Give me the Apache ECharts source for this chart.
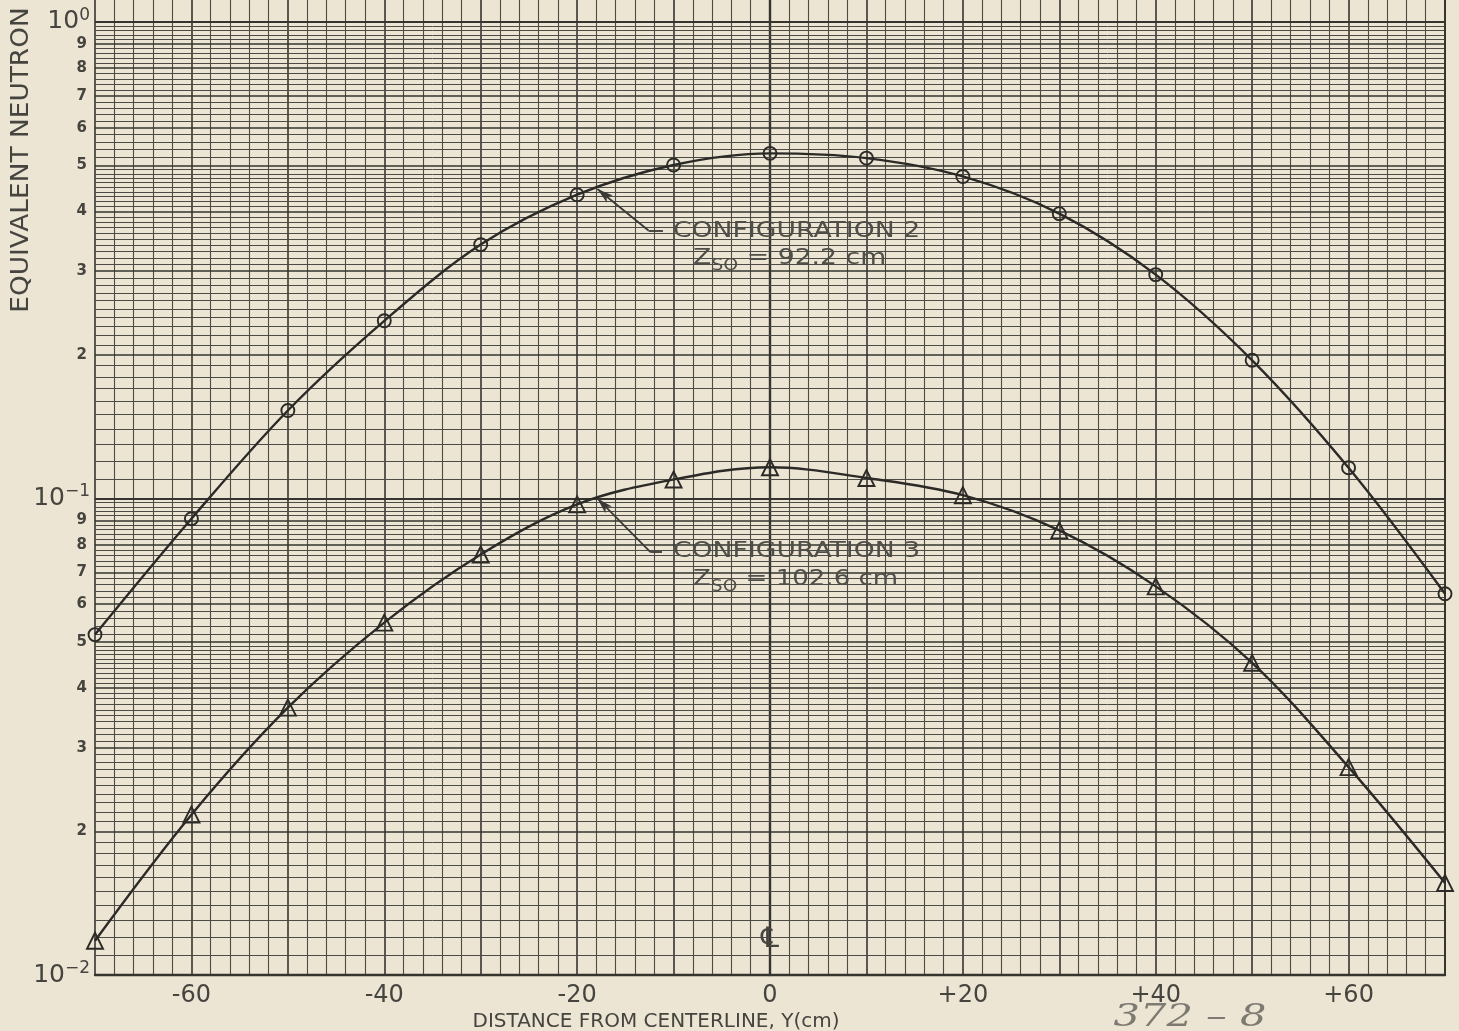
<!DOCTYPE html>
<html><head><meta charset="utf-8">
<script src="https://cdn.jsdelivr.net/npm/echarts@6/dist/echarts.min.js"></script>
<style>html,body{margin:0;padding:0;background:#ece5d3;} #c{width:1459px;height:1031px;}</style>
</head><body><div id="c"></div>
<script>
// ---- data ----
const xValues = [-70, -60, -50, -40, -30, -20, -10, 0, 10, 20, 30, 40, 50, 60, 70];
const config2Values = [0.0518, 0.0907, 0.153, 0.236, 0.341, 0.434, 0.501, 0.530, 0.518, 0.474, 0.396, 0.295, 0.195, 0.116, 0.0631];
const config3Values = [0.0118, 0.0217, 0.0364, 0.0549, 0.0763, 0.0972, 0.1096, 0.1163, 0.1104, 0.1016, 0.0857, 0.0654, 0.0452, 0.0273, 0.0156];
const xTickLabels = [-60, -40, -20, 0, 20, 40, 60];
const decadeExponents = [-2, -1, 0];
const mantissaLabels = [2, 3, 4, 5, 6, 7, 8, 9];
const labeledDecades = [0.01, 0.1];
// leader lines (data coordinates): tip, elbow, end
const leader2 = [[-17.9, 0.446], [-12.6, 0.365], [-11.1, 0.365]];
const leader3 = [[-17.9, 0.100], [-12.4, 0.0772], [-11.2, 0.0772]];

// ---- styles ----
const INK = '#35342f';
const TEXT = '#45443f';
const FONT = '"DejaVu Sans", "Liberation Sans", sans-serif';

// log-paper horizontal rulings
function r(v) { return Math.round(v * 1e7) / 1e7; }
const gridLines = [];
labeledDecades.forEach(function (d) {
  for (let i = 11; i < 100; i++) {
    const m = i / 10;
    if (m >= 5 && (i % 2 === 1)) continue; // 0.2 steps above 5
    const isInt = (i % 10 === 0);
    const item = { yAxis: r(m * d) };
    if (isInt) {
      item.lineStyle = { color: INK, width: 1.7, type: 'solid' };
      if (mantissaLabels.indexOf(i / 10) >= 0) {
        item.label = { show: true, position: 'start', distance: 8, formatter: String(i / 10),
          color: TEXT, fontSize: 15, fontWeight: 'bold', fontFamily: FONT };
      }
    } else {
      item.lineStyle = { color: '#4d4b45', width: 1, type: 'solid' };
    }
    gridLines.push(item);
  }
});
decadeExponents.forEach(function (e) {
  gridLines.push({ yAxis: Math.pow(10, e), lineStyle: { color: INK, width: 2.2, type: 'solid' } });
});
gridLines.push({ xAxis: 70, lineStyle: { color: INK, width: 2, type: 'solid' } });

function leaderLines(pts) {
  return [
    [{ coord: pts[0], symbol: 'arrow', symbolSize: [7, 16] }, { coord: pts[1], symbol: 'none' }],
    [{ coord: pts[1], symbol: 'none' }, { coord: pts[2], symbol: 'none' }]
  ];
}

const chart = echarts.init(document.getElementById('c'), null, { renderer: 'canvas' });
const subRich = {
  z: { fontSize: 21, fontFamily: FONT, fill: '#4f4e48', lineHeight: 26, verticalAlign: 'top' },
  sub: { fontSize: 15, fontFamily: FONT, fill: '#4f4e48', lineHeight: 26, verticalAlign: 'bottom', padding: [11, 0, 0, 0] }
};
chart.setOption({
  backgroundColor: '#ece5d3',
  animation: false,
  grid: { left: 95, right: 14, top: 0, bottom: 56, containLabel: false },
  xAxis: {
    type: 'value', min: -70, max: 70, interval: 10,
    axisLine: { show: true, lineStyle: { color: INK, width: 2.4 } },
    axisTick: { show: false },
    axisLabel: {
      margin: 9, color: TEXT, fontSize: 24, fontFamily: FONT,
      formatter: function (v) {
        if (xTickLabels.indexOf(v) < 0) return '';
        return v > 0 ? '+' + v : String(v);
      }
    },
    splitLine: { show: true, lineStyle: { color: INK, width: 1.6 } },
    minorTick: { show: false, splitNumber: 5 },
    minorSplitLine: { show: true, lineStyle: { color: '#4d4b45', width: 1.1 } }
  },
  yAxis: {
    type: 'log', min: 0.01, max: 1.112, interval: 1,
    axisLine: { show: true, lineStyle: { color: INK, width: 2.4 } },
    axisTick: { show: false },
    splitLine: { show: false },
    axisLabel: {
      margin: 5, color: TEXT, fontFamily: FONT,
      formatter: function (v) {
        const e = Math.round(Math.log10(v) * 1000) / 1000;
        if (decadeExponents.indexOf(e) < 0) return '';
        return '{n|10}{s|' + (e === 0 ? '0' : '−' + Math.abs(e)) + '}';
      },
      rich: {
        n: { fontSize: 25, fontFamily: FONT, color: TEXT, lineHeight: 30 },
        s: { fontSize: 17, fontFamily: FONT, color: TEXT, verticalAlign: 'top', lineHeight: 14 }
      }
    }
  },
  series: [
    {
      name: 'grid', type: 'line', data: [], silent: true, z: 1,
      markLine: { silent: true, symbol: 'none', z: 1, animation: false, precision: 7,
        label: { show: false }, emphasis: { disabled: true }, data: gridLines }
    },
    {
      name: 'CONFIGURATION 2', type: 'line', z: 10,
      data: xValues.map(function (x, i) { return [x, config2Values[i]]; }),
      smooth: 0.35, symbol: 'circle', symbolSize: 13,
      lineStyle: { color: '#2b2a27', width: 2.4 },
      itemStyle: { color: 'rgba(0,0,0,0)', borderWidth: 1.9, borderColor: '#2b2a27' },
      markLine: { silent: true, z: 9, animation: false, precision: 7, label: { show: false },
        lineStyle: { color: '#3a3935', width: 1.8, type: 'solid' }, data: leaderLines(leader2) }
    },
    {
      name: 'CONFIGURATION 3', type: 'line', z: 10,
      data: xValues.map(function (x, i) { return [x, config3Values[i]]; }),
      smooth: 0.35, symbol: 'triangle', symbolSize: 16,
      lineStyle: { color: '#2b2a27', width: 2.4 },
      itemStyle: { color: 'rgba(0,0,0,0)', borderWidth: 1.9, borderColor: '#2b2a27' },
      markLine: { silent: true, z: 9, animation: false, precision: 7, label: { show: false },
        lineStyle: { color: '#3a3935', width: 1.8, type: 'solid' }, data: leaderLines(leader3) }
    }
  ],
  graphic: [
    { type: 'text', x: 673, y: 232, scaleX: 1.27, z: 20,
      style: { text: 'CONFIGURATION 2', fill: '#4f4e48', font: '21px ' + FONT, textVerticalAlign: 'middle' } },
    { type: 'text', x: 693, y: 248, scaleX: 1.27, z: 20,
      style: { text: '{z|Z}{sub|SO}{z| = 92.2 cm}', rich: subRich } },
    { type: 'text', x: 673, y: 552, scaleX: 1.27, z: 20,
      style: { text: 'CONFIGURATION 3', fill: '#4f4e48', font: '21px ' + FONT, textVerticalAlign: 'middle' } },
    { type: 'text', x: 693, y: 569, scaleX: 1.24, z: 20,
      style: { text: '{z|Z}{sub|SO}{z| = 102.6 cm}', rich: subRich } },
    { type: 'text', x: 22, y: 160, rotation: Math.PI / 2, scaleX: 1.1, z: 20,
      style: { text: 'EQUIVALENT NEUTRON', fill: TEXT, font: '24px ' + FONT, textAlign: 'center', textVerticalAlign: 'middle' } },
    { type: 'text', x: 770, y: 940, z: 20,
      style: { text: '℄', fill: TEXT, font: '28px ' + FONT, textAlign: 'center', textVerticalAlign: 'middle' } },
    { type: 'text', x: 656, y: 1022, z: 20,
      style: { text: 'DISTANCE FROM CENTERLINE, Y(cm)', fill: TEXT, font: '20px ' + FONT, textAlign: 'center', textVerticalAlign: 'middle' } },
    { type: 'text', x: 1190, y: 1018, scaleX: 1.3, z: 20,
      style: { text: '372 – 8', fill: '#7d7a72', font: 'italic 32px "DejaVu Serif", serif', textAlign: 'center', textVerticalAlign: 'middle' } }
  ]
});
</script>
</body></html>
